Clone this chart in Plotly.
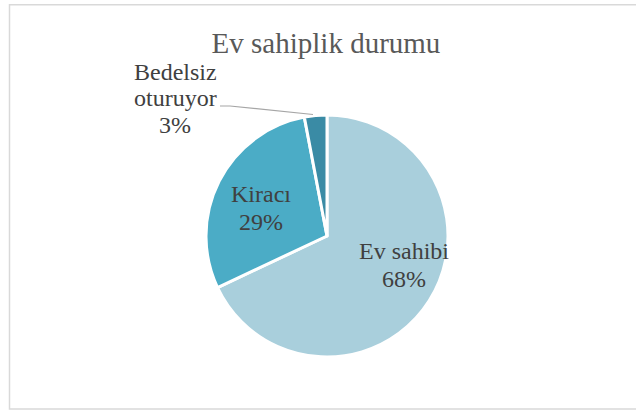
import plotly.graph_objects as go

categories = ["Ev sahibi", "Kiracı", "Bedelsiz oturuyor"]
values = [68, 29, 3]
colors = ["#A9CFDC", "#4BACC6", "#3A8BA5"]
# label lines per slice (each line drawn separately to match the tight line spacing)
label_lines = [["Ev sahibi", "68%"], ["Kiracı", "29%"], ["Bedelsiz", "oturuyor", "3%"]]
title_text = "Ev sahiplik durumu"

W, H = 636, 414
SERIF = "Liberation Serif"

fig = go.Figure(go.Pie(
    labels=categories, values=values, sort=False, direction="clockwise",
    rotation=0, marker=dict(colors=colors, line=dict(color="white", width=3)),
    textinfo="none", hoverinfo="label+percent", showlegend=False,
    domain=dict(x=[206 / W, 448 / W], y=[1 - 357 / H, 1 - 115 / H]),
))

font = dict(family=SERIF, size=24, color="#404040")
# (x centre, first line centre, line step) in pixels
label_layout = [(404, 251, 27.5), (261, 194, 28), (175, 72, 26.5)]
for lines, (cx, cy, step) in zip(label_lines, label_layout):
    for i, line in enumerate(lines):
        fig.add_annotation(x=cx / W, y=1 - (cy + i * step) / H, xref="paper", yref="paper",
                           text=line, showarrow=False, font=font,
                           xanchor="center", yanchor="middle")

fig.add_shape(type="path", xref="paper", yref="paper",
              path=f"M {220/W} {1-106/H} L {230/W} {1-106/H} L {313/W} {1-114.5/H}",
              line=dict(color="#A6A6A6", width=1.2))
fig.add_shape(type="rect", xref="paper", yref="paper",
              x0=9.5 / W, x1=645 / W, y0=1 - 409 / H, y1=1 - 4.7 / H,
              line=dict(color="#D9D9D9", width=1.5))

fig.update_layout(
    width=W, height=H, margin=dict(l=0, r=0, t=0, b=0),
    paper_bgcolor="white", plot_bgcolor="white",
    font=dict(family=SERIF),
    title=dict(text=title_text, x=326 / W, xanchor="center",
               y=1 - 43 / H, yanchor="middle",
               font=dict(family=SERIF, size=29, color="#595959")),
)
fig.write_html("out.html", config={"displayModeBar": False},
               post_script="document.body.style.margin='0';")
